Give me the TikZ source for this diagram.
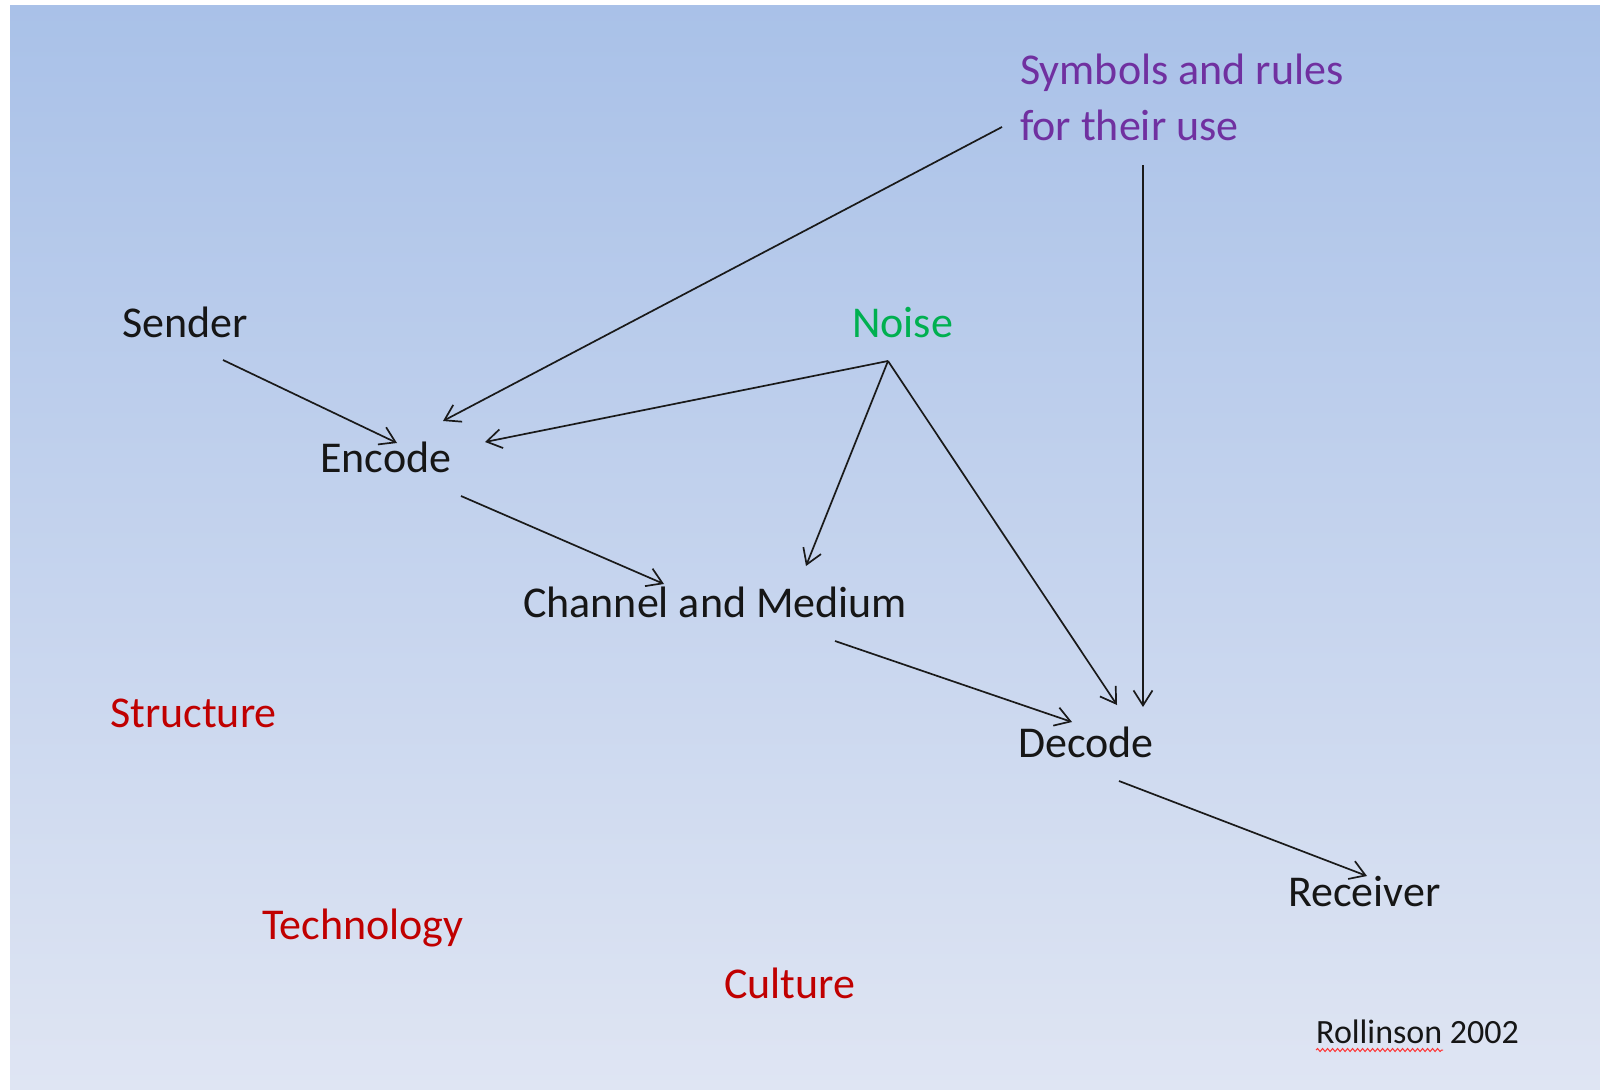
\documentclass[tikz,border=0pt]{standalone}
\usepackage{fontspec}
\setmainfont{Carlito}
\usetikzlibrary{arrows.meta,decorations.pathmorphing}
\definecolor{bgtop}{HTML}{A9C1E8}
\definecolor{bgbot}{HTML}{DFE5F3}
\definecolor{txtblack}{HTML}{161616}
\definecolor{txtpurple}{HTML}{7030A0}
\definecolor{txtgreen}{HTML}{00B050}
\definecolor{txtred}{HTML}{C00000}
\definecolor{linecol}{HTML}{1A1A1A}
\begin{document}
\begin{tikzpicture}[x=1pt,y=-1pt,
  lbl/.style={anchor=base west,inner sep=0pt,font=\fontsize{44}{55}\selectfont,text=txtblack},
  arr/.style={draw=linecol,line width=1.7pt,-{Straight Barb[length=15pt,width=19pt,line width=1.7pt]}}]
\useasboundingbox (0,0) rectangle (1600,1089);
\fill[white] (0,0) rectangle (1600,1089);
\shade[top color=bgtop,bottom color=bgbot] (10,6) rectangle (1600,1089);
% labels
\node[lbl,text=txtpurple,align=left] (symbols) at (1020,140) {Symbols and rules\\for their use};
\node[lbl] (sender) at (122,337) {Sender};
\node[lbl,text=txtgreen] (noise) at (852,337) {Noise};
\node[lbl] (encode) at (320,472) {Encode};
\node[lbl] (channel) at (523,617) {Channel and Medium};
\node[lbl] (decode) at (1018,757) {Decode};
\node[lbl] (receiver) at (1288,906) {Receiver};
\node[lbl,text=txtred] (structure) at (110,727) {Structure};
\node[lbl,text=txtred] (technology) at (262,939) {Technology};
\node[lbl,text=txtred] (culture) at (724,998) {Culture};
\node[lbl,font=\fontsize{34}{40}\selectfont] (rollinson) at (1316,1043) {Rollinson 2002};
% connector end points
\coordinate (sendS) at (223,360);
\coordinate (encN) at (397,443);
\coordinate (symS) at (1002,127);
\coordinate (encNE) at (443,421);
\coordinate (noiS) at (888,361);
\coordinate (encE) at (485,442);
\coordinate (chaN) at (806,566);
\coordinate (decN) at (1117,705);
\coordinate (symB) at (1143,165);
\coordinate (decNE) at (1143,707);
\coordinate (encS) at (461,496);
\coordinate (chaNW) at (664,584);
\coordinate (chaS) at (835,641);
\coordinate (decW) at (1072,722);
\coordinate (decS) at (1119,781);
\coordinate (recN) at (1367,876);
% connectors
\draw[arr] (sendS) -- (encN);
\draw[arr] (symS) -- (encNE);
\draw[arr] (noiS) -- (encE);
\draw[arr] (noiS) -- (chaN);
\draw[arr] (noiS) -- (decN);
\draw[arr] (symB) -- (decNE);
\draw[arr] (encS) -- (chaNW);
\draw[arr] (chaS) -- (decW);
\draw[arr] (decS) -- (recN);
% spell-check squiggle
\coordinate (sqA) at (1316,1050);
\coordinate (sqB) at (1443,1050);
\draw[red!80!white,line width=1pt,decorate,decoration={snake,amplitude=1.5pt,segment length=5pt}] (sqA) -- (sqB);
\end{tikzpicture}
\end{document}
